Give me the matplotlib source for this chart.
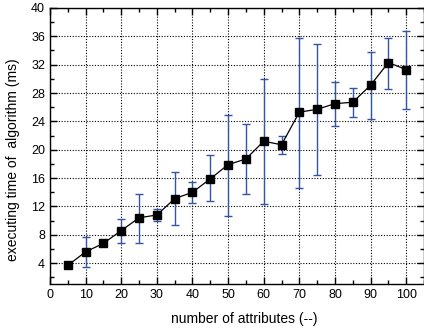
"""Executing time vs number of attributes, with error bars."""

import matplotlib

matplotlib.use("Agg")
import matplotlib.pyplot as plt
from matplotlib.ticker import MultipleLocator

plt.rcParams["font.family"] = ["Liberation Sans", "DejaVu Sans"]

attributes = [5, 10, 15, 20, 25, 30, 35, 40, 45, 50,
              55, 60, 65, 70, 75, 80, 85, 90, 95, 100]
time_ms = [3.7, 5.6, 6.8, 8.6, 10.4, 10.8, 13.1, 14.0, 15.9, 17.9,
           18.7, 21.2, 20.7, 25.3, 25.7, 26.5, 26.7, 29.1, 32.3, 31.3]
err_low = [3.4, 3.5, 6.4, 6.9, 6.9, 10.0, 9.4, 12.5, 12.7, 10.6,
           13.8, 12.4, 19.4, 14.6, 16.5, 23.3, 24.6, 24.4, 28.6, 25.8]
err_high = [4.0, 7.7, 7.1, 10.2, 13.8, 11.6, 16.8, 15.4, 19.2, 24.9,
            23.6, 30.0, 22.0, 35.8, 34.9, 29.6, 28.7, 33.8, 35.8, 36.8]

yerr = [[t - lo for t, lo in zip(time_ms, err_low)],
        [hi - t for t, hi in zip(time_ms, err_high)]]

fig = plt.figure(figsize=(4.24, 3.30), dpi=100)
ax = fig.add_axes([0.118, 0.138, 0.882, 0.838])

ax.errorbar(attributes, time_ms, yerr=yerr, fmt="none", ecolor="#3355a5",
            elinewidth=1.0, capsize=3, capthick=1.0, zorder=2)
ax.plot(attributes, time_ms, "-s", color="black", linewidth=0.9,
        markersize=5.2, zorder=3)

ax.set_xlim(0, 105)
ax.set_ylim(1, 40)
ax.xaxis.set_major_locator(MultipleLocator(10))
ax.xaxis.set_minor_locator(MultipleLocator(5))
ax.yaxis.set_major_locator(MultipleLocator(4))
ax.yaxis.set_minor_locator(MultipleLocator(2))
ax.set_xticks(range(0, 101, 10))

ax.grid(True, which="major", color="black", linestyle=(0, (1, 1.5)),
        linewidth=0.8)
ax.tick_params(which="both", direction="in", top=True, right=True,
               labelsize=9, width=1.0)
ax.tick_params(which="major", length=5)
ax.tick_params(which="minor", length=3)
for sp in ax.spines.values():
    sp.set_linewidth(1.0)

ax.set_xlabel("number of attributes (--)", fontsize=10, labelpad=6)
ax.xaxis.set_label_coords(0.52, -0.1)
ax.set_ylabel("executing time of  algorithm (ms)", fontsize=10, labelpad=4)
ax.yaxis.set_label_coords(-0.08, 0.45)

fig.savefig("out.png", dpi=100)
